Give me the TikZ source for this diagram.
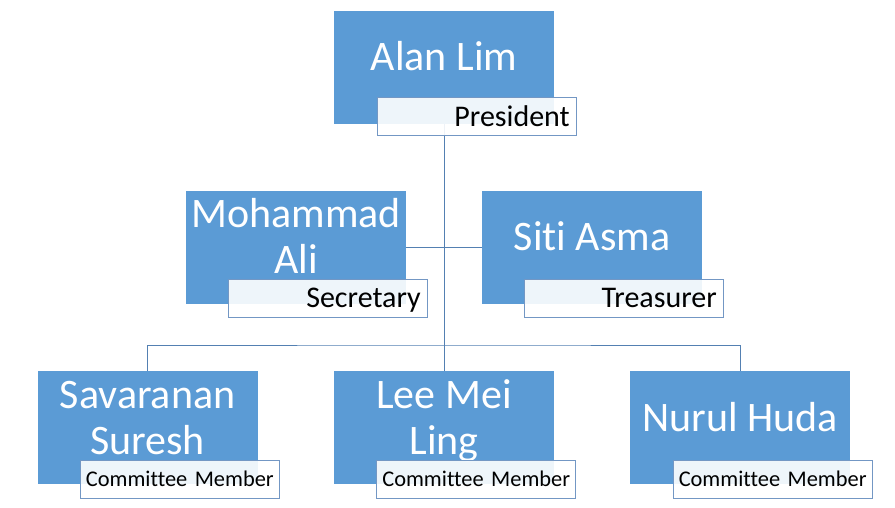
\documentclass[tikz,border=0pt]{standalone}
\usepackage{fontspec}
\setmainfont{Carlito}[Ligatures={NoCommon,NoContextual}]
\usetikzlibrary{positioning}
\definecolor{boxblue}{HTML}{5B9BD5}
\definecolor{linkblue}{HTML}{5380B2}
\definecolor{frameblue}{HTML}{7397C4}

\begin{document}
\begin{tikzpicture}[x=1pt,y=-1pt,
  name box/.style={rectangle,fill=boxblue,
    minimum width=220pt,minimum height=113pt,inner sep=0pt},
  name text/.style={text=white,align=center,
    font=\fontsize{42}{46}\selectfont},
  title box/.style={rectangle,draw=frameblue,line width=0.9pt,
    fill=white,fill opacity=0.9,text opacity=1,
    minimum width=199pt,minimum height=38pt,inner xsep=7pt,
    text width=185pt,align=right,text height=19pt,text depth=0pt,
    font=\fontsize{30}{34}\selectfont},
  member box/.style={title box,inner xsep=2pt,text width=195pt,
    align=center,text height=14pt,font=\fontsize{22.4}{26}\selectfont},
  link/.style={draw=linkblue,line width=1pt}]

  \useasboundingbox (0,0) rectangle (895,507);

  % boxes
  \node[name box] (ALAN) at (444,67.5) {};
  \node[name box] (MOH) at (296,247) {};
  \node[name box] (SITI) at (592,247) {};
  \node[name box] (LEE) [below=247pt of ALAN] {};
  \node[name box] (SAV) [left=76pt of LEE] {};
  \node[name box] (NURUL) [right=76pt of LEE] {};

  % names
  \node[name text] (ALANNAME) at ([yshift=6pt]ALAN.center) {\strut Alan Lim};
  \node[name text] (MOHNAME) at ([yshift=6pt]MOH.center) {\strut Mohammad\\\strut Ali};
  \node[name text] (SITINAME) at ([yshift=6pt]SITI.center) {\strut Siti Asma};
  \node[name text] (SAVNAME) at ([yshift=6pt]SAV.center) {\strut Savaranan\\\strut Suresh};
  \node[name text] (LEENAME) at ([yshift=6pt]LEE.center) {\strut Lee Mei\\\strut Ling};
  \node[name text] (NURULNAME) at ([yshift=6pt]NURUL.center) {\strut Nurul Huda};

  % connectors
  \coordinate (BUS) at (444,345);
  \draw[link] (ALAN.south) -- (LEE.north);
  \draw[link] (MOH.east) -- (SITI.west);
  \draw[link] (SAV.north) |- (BUS) -| (NURUL.north);

  % titles
  \node[title box,anchor=south east] (PRES) at ([xshift=23pt,yshift=-12pt]ALAN.south east) {President};
  \node[title box,anchor=south east] (SEC) at ([xshift=22pt,yshift=-14pt]MOH.south east) {Secretary};
  \node[title box,anchor=south east] (TREAS) at ([xshift=22pt,yshift=-14pt]SITI.south east) {Treasurer};
  \node[member box,anchor=south east] (MEM1) at ([xshift=22pt,yshift=-14pt]SAV.south east) {Committee Member};
  \node[member box,anchor=south east] (MEM2) at ([xshift=22pt,yshift=-14pt]LEE.south east) {Committee Member};
  \node[member box,anchor=south east] (MEM3) at ([xshift=22pt,yshift=-14pt]NURUL.south east) {Committee Member};
\end{tikzpicture}
\end{document}
